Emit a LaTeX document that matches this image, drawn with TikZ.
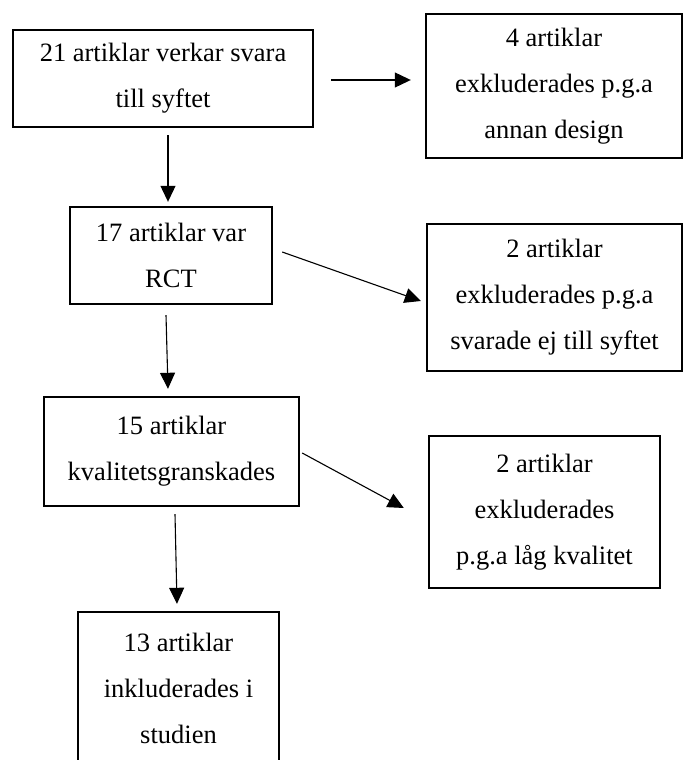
\documentclass[tikz,border=0pt]{standalone}
\usepackage{fontspec}
\setmainfont{Liberation Serif}
\usetikzlibrary{arrows.meta}
\begin{document}
\begin{tikzpicture}[x=1pt, y=-1pt,
  every node/.style={font=\fontsize{26.5pt}{46pt}\selectfont},
  box/.style={draw, line width=2.4pt, inner sep=0pt, align=center},
  arr/.style={line width=1.1pt, -{Triangle[length=16pt,width=15pt]}}]
  \clip (0,0) rectangle (683,760);
  \node[box, minimum width=300, minimum height=97] (b21) at (163,78.5) {21 artiklar verkar svara\\till syftet};
  \node[box, minimum width=256, minimum height=144] (ex4) at (554,86) {4 artiklar\\exkluderades p.g.a\\annan design};
  \node[box, minimum width=202, minimum height=97] (b17) at (171,255.5) {17 artiklar var\\RCT};
  \node[box, minimum width=255, minimum height=147] (ex2a) at (554.5,297.5) {2 artiklar\\exkluderades p.g.a\\svarade ej till syftet};
  \node[box, minimum width=255, minimum height=109] (b15) at (171.5,451.5) {15 artiklar\\kvalitetsgranskades};
  \node[box, minimum width=231, minimum height=152] (ex2b) at (544.5,512) {2 artiklar\\exkluderades\\p.g.a låg kvalitet};
  \node[box, minimum width=201, minimum height=152] (b13) at (178.5,688) {13 artiklar\\inkluderades i\\studien};
  \draw[arr] ([shift={(17,1.5)}]b21.east) -- ([shift={(-14,-6)}]ex4.west);
  \draw[arr] ([shift={(5,7)}]b21.south) -- ([shift={(-3,-4)}]b17.north);
  \draw[arr] ([shift={(9,-3.5)}]b17.east) -- ([shift={(-5,3.5)}]ex2a.west);
  \draw[arr] ([shift={(-5,10)}]b17.south) -- ([shift={(-3.5,-7)}]b15.north);
  \draw[arr] ([shift={(2,1.5)}]b15.east) -- ([shift={(-24,-4)}]ex2b.west);
  \draw[arr] ([shift={(3.5,7)}]b15.south) -- ([shift={(-1.5,-7)}]b13.north);
\end{tikzpicture}
\end{document}
